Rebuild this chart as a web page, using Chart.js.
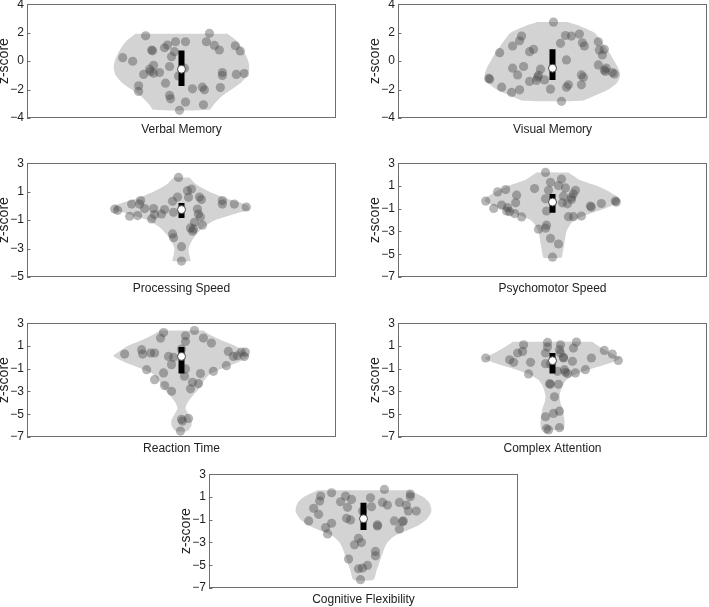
<!DOCTYPE html>
<html><head><meta charset="utf-8">
<script src="https://cdn.jsdelivr.net/npm/chart.js@4"></script>
<style>
html,body{margin:0;padding:0;background:#fff;width:709px;height:607px;overflow:hidden;position:relative}
canvas.p{position:absolute}
</style></head><body>
<script>
// ---------- data ----------
const panelTitles = ['Verbal Memory','Visual Memory','Processing Speed','Psychomotor Speed','Reaction Time','Complex Attention','Cognitive Flexibility'];
const yRanges = [[-4,4],[-4,4],[-5,3],[-7,3],[-7,3],[-7,3],[-7,3]];
const ticksMemory = [4,2,0,-2,-4];
const ticksProcessing = [3,1,-1,-3,-5];
const ticksWide = [3,1,-1,-3,-5,-7];

// box (25th-75th percentile) and median
const boxLow  = [-1.75,-1.32,-0.85,-1.35,-1.43,-1.43,-1.9];
const boxHigh = [0.75,0.83,0.2,0.3,0.9,0.38,0.5];
const medians = [-0.57,-0.5,-0.26,-0.42,0.08,-0.29,-0.91];

// violin density profiles: z values and relative half-widths (pixels of a 310 px wide plot)
const verbalProfZ = [1.92,1.5,1.0,0.5,0,-0.5,-1.0,-1.5,-2.0,-2.5,-3.0,-3.42];
const verbalProfW = [46,54,60,64,67,68,66,60,50,40,33,28];
const visualProfZ = [2.74,2.5,2.0,1.5,1.0,0.5,0,-0.5,-1.0,-1.5,-2.0,-2.5,-2.79];
const visualProfW = [15,26,42,48,53,58,62,66,68,65,56,40,29];
const procProfZ = [2.0,1.5,1.0,0.5,0.2,0,-0.25,-0.5,-1.0,-1.5,-2.0,-2.5,-3.0,-3.5,-3.88];
const procProfW = [8,15,28,46,60,67,68,56,34,22,15,10,7,8,9];
const psychProfZ = [2.19,1.5,1.0,0.5,0,-0.3,-0.5,-1.0,-1.5,-2.0,-2.5,-3.0,-4.0,-5.0,-5.3];
const psychProfW = [16,28,45,57,66,68,65,52,35,22,17,14,12,10,9];
const reactProfZ = [2.36,2.0,1.5,1.0,0.5,0.2,0,-0.5,-1.0,-1.5,-2.0,-2.5,-3.0,-3.5,-4.0,-4.5,-5.0,-5.5,-6.0,-6.48];
const reactProfW = [22,28,40,54,63,68,67,55,40,28,23,20,15,10,6,4,7,10,10,6];
const complexProfZ = [1.37,1.0,0.5,0,-0.1,-0.5,-1.0,-1.5,-2.0,-2.5,-3.0,-3.5,-4.0,-4.5,-5.0,-5.5,-6.0,-6.35];
const complexProfW = [40,46,56,67,68,58,39,23,14,10,8,7,8,10,11,12,12,11];
const cogProfZ = [1.6,1.0,0.5,0,-0.3,-0.5,-1.0,-1.5,-2.0,-2.5,-3.0,-3.5,-4.0,-4.5,-5.0,-5.5,-6.27];
const cogProfW = [46,60,66,68,68,67,63,55,42,30,24,21,19,17,15,13,10];

// individual subjects: [horizontal jitter, z-score]
const verbalPoints = [[-36,1.78],[-59,0.24],[-49,-0.01],[-30,0.78],[-29,0.72],[-17,0.94],[-14,1.13],[-6,1.36],[4,1.36],[-7,0.66],[-10,0.31],[-12,-0.38],[-28,-0.29],[-32,-0.57],[-31,-0.73],[-28,-0.85],[-38,-0.94],[-22,-0.8],[-3,-1.04],[3,-0.5],[-16,-1.55],[-43,-1.74],[-43,-2.13],[-12,-2.41],[-11,-2.65],[-2,-3.46],[4,-2.88],[11,-1.95],[21,-1.83],[23,-2.02],[22,-3.07],[39,-1.86],[41,-0.8],[41,-1.01],[55,-0.94],[63,-0.87],[59,0.71],[54,1.08],[38,0.78],[33,1.1],[25,1.36],[28,1.95]];
const visualPoints = [[1,2.74],[-53,0.59],[-40,1.06],[-33,1.43],[-31,1.76],[-23,0.66],[-19,0.83],[-40,-0.5],[-35,-0.97],[-29,-0.38],[-63,-1.27],[-64,-1.22],[-51,-1.83],[-41,-2.2],[-33,-2.02],[-23,-1.43],[-16,-1.36],[-12,-0.57],[-14,-0.99],[-8,-1.32],[-2,-1.97],[9,-2.83],[14,-1.83],[16,-1.67],[14,0.08],[8,1.25],[13,1.8],[19,1.76],[27,1.9],[30,1.29],[32,1.06],[29,-0.97],[31,-1.13],[29,-1.67],[46,1.36],[47,0.78],[52,0.83],[50,0.43],[46,-0.27],[52,-0.62],[54,-0.5],[53,-0.73],[60,-0.8],[62,-0.9],[-15,-1.13]];
const procPoints = [[-3,2.0],[-67,-0.22],[-64,-0.31],[-50,0.13],[-41,0.37],[-42,0.13],[-52,-0.73],[-44,-0.68],[-37,-0.19],[-28,-0.19],[-27,-0.61],[-30,-0.92],[-20,-0.57],[-17,-0.26],[-9,0.32],[-4,0.62],[-8,-0.45],[-9,-1.97],[-8,-2.24],[0,-2.87],[0,-3.88],[6,1.07],[10,1.18],[7,0.6],[18,0.62],[20,0.44],[16,-0.22],[17,-0.57],[19,-0.78],[21,-1.36],[13,-1.15],[9,-1.55],[11,-1.78],[12,-1.62],[41,0.37],[41,0.13],[53,0.13],[65,-0.08]];
const psychPoints = [[-7,2.19],[-55,0.48],[-47,0.68],[-67,-0.33],[-59,-0.97],[-51,-0.68],[-45,-0.91],[-43,-1.26],[-46,-1.2],[-38,-1.43],[-31,-1.72],[-36,0.19],[-37,-0.48],[-18,0.77],[-7,-0.13],[-4,0.62],[-2,1.32],[6,1.03],[9,1.61],[13,0.83],[11,0.1],[10,-0.48],[15,-0.57],[19,0.01],[21,0.3],[23,0.62],[19,-0.19],[-6,-1.2],[-6,-2.45],[-14,-2.8],[-7,-2.71],[-2,-3.61],[6,-4.1],[0,-5.26],[16,-1.7],[21,-1.7],[29,-1.64],[38,-0.77],[39,-0.86],[49,-0.54],[63,-0.33],[64,-0.42]];
const reactPoints = [[13,2.36],[4,1.89],[4,1.4],[-18,2.18],[-21,1.69],[-57,0.29],[-40,0.67],[-39,0.29],[-31,0.38],[-27,0.38],[-13,0.08],[-8,0.0],[-10,-0.64],[0,0.73],[-35,-1.08],[-27,-1.96],[-18,-1.37],[-17,-2.48],[-10,-2.98],[3,-1.66],[4,-1.02],[11,-2.19],[9,-2.77],[17,-2.31],[19,-1.43],[22,1.69],[30,1.25],[32,-1.23],[45,-0.73],[47,0.52],[52,0.08],[56,0.14],[60,0.46],[64,0.46],[63,0.08],[0,-5.45],[7,-5.37],[-1,-6.48],[1,-5.6]];
const complexPoints = [[-67,-0.06],[-43,-0.21],[-39,-0.44],[-35,0.38],[-30,0.52],[-29,1.1],[-22,-0.44],[-24,-1.46],[-5,1.31],[-5,0.9],[-7,0.38],[-7,-0.56],[-2,-0.58],[8,1.1],[7,0.67],[8,0.38],[11,-0.06],[5,-1.23],[12,-1.08],[13,-1.31],[15,-1.43],[20,-0.35],[21,0.81],[24,1.34],[23,-1.37],[33,-1.08],[39,-0.06],[52,0.61],[60,0.29],[66,-0.27],[-3,-2.31],[-2,-2.37],[6,-2.37],[2,-3.47],[-7,-5.22],[1,-4.93],[7,-4.73],[-6,-6.27],[-4,-6.38],[7,-6.18],[11,0.0]];
const cogPoints = [[-55,-1.11],[-50,0.0],[-45,-0.53],[-43,1.08],[-44,0.64],[-32,1.37],[-38,-1.69],[-36,-2.25],[-32,-1.31],[-23,0.58],[-18,1.08],[-12,0.78],[-16,0.09],[-17,-0.88],[-13,-1.02],[-5,-2.63],[-9,-3.21],[-2,-3.01],[-15,-4.46],[-5,-5.31],[-1,-5.25],[4,-5.02],[-3,-6.27],[12,-3.79],[12,-4.17],[7,0.93],[8,0.14],[-1,-0.24],[14,-1.46],[14,-1.55],[21,1.66],[19,0.52],[24,0.29],[31,-1.11],[36,-1.81],[40,-1.11],[39,-1.17],[36,0.52],[43,0.29],[45,-0.24],[47,1.02],[47,1.25],[53,-0.24]];

// ---------- layout ----------
const plotOrigins = [[27,4],[398,4],[27,163],[398,163],[27,323],[398,323],[209,474]];
const PLOT_W = 310, PLOT_H = 114, AX_W = 32, TOP_PAD = 10, RIGHT_PAD = 4, BOT_H = 20;

const profilesZ = [verbalProfZ,visualProfZ,procProfZ,psychProfZ,reactProfZ,complexProfZ,cogProfZ];
const profilesW = [verbalProfW,visualProfW,procProfW,psychProfW,reactProfW,complexProfW,cogProfW];
const pointSets = [verbalPoints,visualPoints,procPoints,psychPoints,reactPoints,complexPoints,cogPoints];
const tickSets = [ticksMemory,ticksMemory,ticksProcessing,ticksWide,ticksWide,ticksWide,ticksWide];

Chart.defaults.font.family = "'Liberation Sans', Arial, Helvetica, sans-serif";
Chart.defaults.color = '#222';
Chart.defaults.animation = false;

const framePlugin = {
  id: 'frame',
  afterDatasetsDraw(chart) {
    const {ctx, chartArea: a} = chart;
    const L = Math.round(a.left), T = Math.round(a.top);
    const R = Math.round(a.right), B = Math.round(a.bottom);
    ctx.save();
    ctx.strokeStyle = '#6e6e6e';
    ctx.lineWidth = 1;
    ctx.strokeRect(L + 0.5, T + 0.5, R - L - 1, B - T - 1);
    // small inward tick marks on the left edge
    const ys = chart.scales.y;
    ctx.beginPath();
    ys.ticks.forEach(t => {
      const py = Math.round(ys.getPixelForValue(t.value)) + 0.5;
      ctx.moveTo(L, py); ctx.lineTo(L + 3.5, py);
    });
    ctx.stroke();
    ctx.restore();
  }
};

const fmt = v => String(v).replace('-', '\u2212');

panelTitles.forEach((title, i) => {
  const cv = document.createElement('canvas');
  cv.className = 'p';
  const W = AX_W + PLOT_W + RIGHT_PAD, H = TOP_PAD + PLOT_H + BOT_H;
  cv.width = W; cv.height = H;
  cv.style.width = W + 'px'; cv.style.height = H + 'px';
  cv.style.left = (plotOrigins[i][0] - AX_W) + 'px';
  cv.style.top = (plotOrigins[i][1] - TOP_PAD) + 'px';
  document.body.appendChild(cv);

  const pz = profilesZ[i], pw = profilesW[i];
  const outline = [];
  for (let k = 0; k < pz.length; k++) outline.push({x: pw[k], y: pz[k]});
  for (let k = pz.length - 1; k >= 0; k--) outline.push({x: -pw[k], y: pz[k]});

  const dots = pointSets[i].map(p => ({x: p[0], y: p[1]}));
  const ticks = tickSets[i];

  new Chart(cv, {
    type: 'scatter',
    data: {
      datasets: [
        {type: 'scatter', data: [{x: 0, y: medians[i]}], pointRadius: 4, backgroundColor: '#fff',
         borderColor: '#444', borderWidth: 1, order: 0},
        {type: 'line', data: [{x: 0, y: boxHigh[i]}, {x: 0, y: boxLow[i]}], borderColor: '#000',
         borderWidth: 6, borderCapStyle: 'butt', pointRadius: 0, fill: false, order: 1},
        {type: 'scatter', data: dots, pointRadius: 4.6, backgroundColor: 'rgba(70,70,70,0.4)',
         borderWidth: 0, order: 2},
        {type: 'line', data: outline, fill: 'shape', backgroundColor: '#d3d3d3',
         borderColor: 'rgba(0,0,0,0)', borderWidth: 0, pointRadius: 0, tension: 0.2, order: 3}
      ]
    },
    options: {
      responsive: false,
      devicePixelRatio: 1,
      events: [],
      layout: {padding: {left: 0, right: RIGHT_PAD, top: TOP_PAD, bottom: 0}},
      plugins: {legend: {display: false}, tooltip: {enabled: false}},
      scales: {
        x: {
          type: 'linear', min: -PLOT_W / 2, max: PLOT_W / 2,
          ticks: {display: false},
          grid: {display: false, drawTicks: false},
          border: {display: false},
          title: {display: true, text: title, color: '#222',
                  font: {size: 12, lineHeight: 1}, padding: {top: 0, bottom: 2}},
          afterFit(s) { s.height = BOT_H; }
        },
        y: {
          type: 'linear', min: yRanges[i][0], max: yRanges[i][1],
          afterBuildTicks(s) { s.ticks = ticks.map(v => ({value: v})); },
          ticks: {font: {size: 12}, color: '#222', padding: 3, callback: v => fmt(v)},
          grid: {display: false, drawTicks: false},
          border: {display: false},
          title: {display: true, text: 'z-score', color: '#222',
                  font: {size: 14, lineHeight: 1}, padding: {top: 2, bottom: 0}},
          afterFit(s) { s.width = AX_W; }
        }
      }
    },
    plugins: [framePlugin]
  });
});
</script>
</body></html>
